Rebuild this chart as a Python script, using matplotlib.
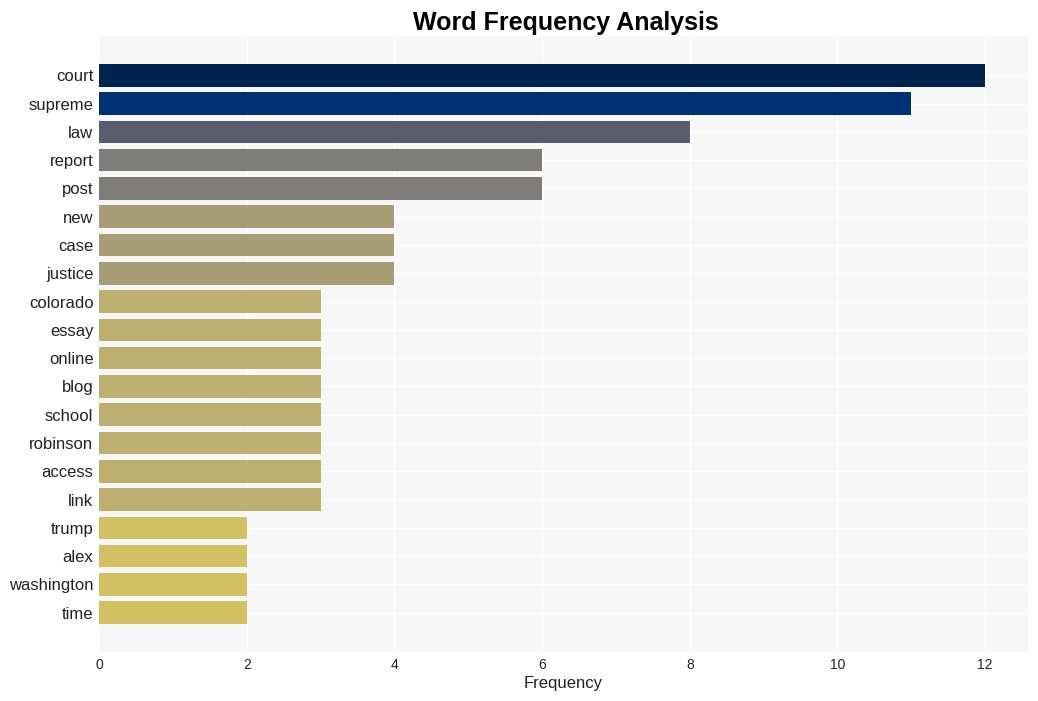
import matplotlib
matplotlib.use("Agg")
import matplotlib.pyplot as plt

words = ["court", "supreme", "law", "report", "post", "new", "case", "justice",
         "colorado", "essay", "online", "blog", "school", "robinson", "access",
         "link", "trump", "alex", "washington", "time"]
freqs = [12, 11, 8, 6, 6, 4, 4, 4, 3, 3, 3, 3, 3, 3, 3, 3, 2, 2, 2, 2]
color_by_value = {12: "#00224e", 11: "#003172", 8: "#5a5d6e", 6: "#7e7c78",
                  4: "#a69d75", 3: "#bdaf70", 2: "#d3c061"}

plt.rcParams['font.family'] = ['Liberation Sans', 'DejaVu Sans']
fig = plt.figure(figsize=(10.38, 7.01), dpi=100)
ax = fig.add_axes([99/1038, 1-652/701, (1028-99)/1038, (652-36)/701])
ax.set_facecolor("#f7f7f7")
ypos = list(range(len(words)))
ax.barh(ypos, freqs, height=0.8, color=[color_by_value[v] for v in freqs], zorder=2)
ax.set_yticks(ypos)
ax.set_yticklabels(words, fontsize=12, color="#222222")
ax.invert_yaxis()
ax.set_xlim(0, 12.58)
ax.set_xticks([0, 2, 4, 6, 8, 10, 12])
ax.tick_params(axis='x', labelsize=10, colors="#222222", length=0, pad=4)
ax.tick_params(axis='y', length=0, pad=4)
ax.grid(True, color="white", linewidth=1, zorder=0)
ax.set_axisbelow(True)
for s in ax.spines.values():
    s.set_visible(False)
ax.set_xlabel("Frequency", fontsize=12, color="#222222", labelpad=3)
fig.suptitle("Word Frequency Analysis", fontsize=18, fontweight="bold", y=0.985, x=0.545)
fig.savefig("out.png", dpi=100)
